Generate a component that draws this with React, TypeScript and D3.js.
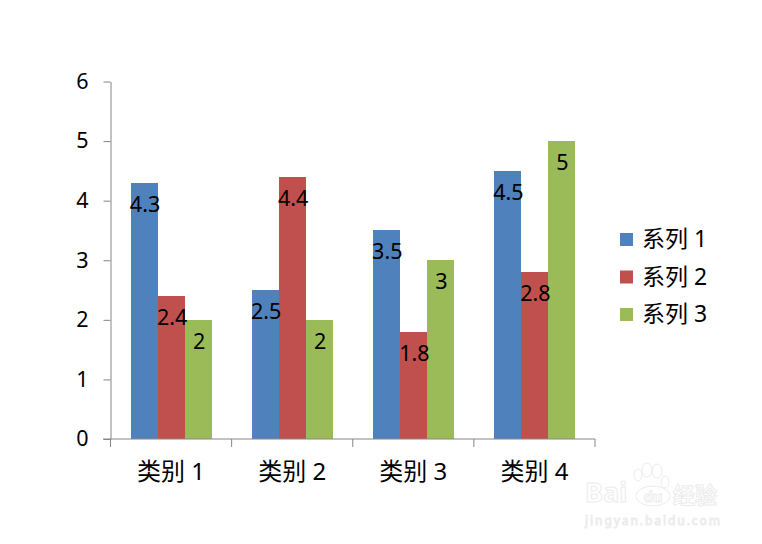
import React, { useRef, useEffect } from 'react';
import * as d3 from 'd3';

const categories = ['类别 1', '类别 2', '类别 3', '类别 4'];
const seriesNames = ['系列 1', '系列 2', '系列 3'];
const series1 = [4.3, 2.5, 3.5, 4.5];
const series2 = [2.4, 4.4, 1.8, 2.8];
const series3 = [2, 2, 3, 5];
const yTicks = [0, 1, 2, 3, 4, 5, 6];
const colors = ['#4f81bd', '#c0504d', '#9bbb59'];

const FONT = '"Noto Sans", "Noto Sans CJK SC", sans-serif';
const AXIS = '#868686';

const App: React.FC = () => {
  const svgRef = useRef<SVGSVGElement | null>(null);

  useEffect(() => {
    if (!svgRef.current) return;
    const svg = d3.select(svgRef.current);
    svg.selectAll('*').remove();

    const x0 = d3.scaleBand<string>().domain(categories).range([110.5, 595]);
    const x1 = d3.scaleBand<string>()
      .domain(seriesNames)
      .range([0, x0.bandwidth()])
      .paddingInner(0)
      .paddingOuter(0.74);
    const y = d3.scaleLinear().domain([0, 6]).range([439, 81.5]);

    const allSeries = [series1, series2, series3];

    // bars
    allSeries.forEach((values, s) => {
      svg.append('g')
        .attr('shape-rendering', 'crispEdges')
        .selectAll('rect')
        .data(values)
        .join('rect')
        .attr('x', (_, i) => x0(categories[i])! + x1(seriesNames[s])! + 0.4)
        .attr('y', d => y(d))
        .attr('width', x1.bandwidth())
        .attr('height', d => y(0) - y(d))
        .attr('fill', colors[s]);
    });

    // y axis
    const yAxis = svg.append('g')
      .attr('transform', 'translate(110.5,0)')
      .call(d3.axisLeft(y).tickValues(yTicks).tickFormat(d3.format('d')).tickSize(7).tickSizeOuter(0).tickPadding(15));
    yAxis.selectAll('path,line').attr('stroke', AXIS);
    yAxis.selectAll('text')
      .attr('fill', '#000')
      .style('font', `21.5px ${FONT}`);

    // x axis, ticks sit between the categories
    const xAxis = svg.append('g').attr('transform', 'translate(0,439)');
    xAxis.append('line').attr('x1', 103).attr('x2', 595).attr('stroke', AXIS);
    xAxis.selectAll('line.sep')
      .data(categories.concat(''))
      .join('line')
      .attr('class', 'sep')
      .attr('x1', (_, i) => 110.5 + i * x0.step())
      .attr('x2', (_, i) => 110.5 + i * x0.step())
      .attr('y1', 0)
      .attr('y2', 8)
      .attr('stroke', AXIS);
    xAxis.selectAll('text')
      .data(categories)
      .join('text')
      .attr('x', d => x0(d)! + x0.bandwidth() / 2)
      .attr('y', 41)
      .attr('text-anchor', 'middle')
      .style('font', `24px ${FONT}`)
      .text(d => d);

    // data labels, inside the bar end
    allSeries.forEach((values, s) => {
      svg.append('g')
        .selectAll('text')
        .data(values)
        .join('text')
        .attr('x', (_, i) => x0(categories[i])! + x1(seriesNames[s])! + x1.bandwidth() / 2 + 1)
        .attr('y', d => y(d) + 29)
        .attr('text-anchor', 'middle')
        .attr('fill', '#000')
        .style('font', `21.5px ${FONT}`)
        .text(d => d);
    });

    // legend
    const legend = svg.append('g');
    seriesNames.forEach((name, s) => {
      const rowY = 239.5 + s * 37.5;
      legend.append('rect')
        .attr('x', 620)
        .attr('y', rowY - 6.5)
        .attr('width', 13)
        .attr('height', 13)
        .attr('fill', colors[s]);
      legend.append('text')
        .attr('x', 642)
        .attr('y', rowY + 7.5)
        .style('font', `23px ${FONT}`)
        .text(name);
    });

    // watermark
    const mark = svg.append('g').attr('fill', 'none').attr('stroke', '#ececec').attr('stroke-width', 1);
    mark.append('text').attr('x', 585).attr('y', 502)
      .style('font', `bold 27px ${FONT}`).text('Bai');
    mark.append('text').attr('x', 673).attr('y', 503)
      .style('font', `bold 22px ${FONT}`).text('经验');
    mark.append('text').attr('x', 653).attr('y', 502).attr('text-anchor', 'middle')
      .style('font', `bold 15px ${FONT}`).text('du');
    mark.append('text').attr('x', 585).attr('y', 525)
      .style('font', `12px ${FONT}`).attr('textLength', 135).text('jingyan.baidu.com');
    mark.append('ellipse').attr('cx', 653).attr('cy', 496).attr('rx', 17).attr('ry', 10);
    [[638, 475, 4, 6], [647, 470, 5, 7], [657, 471, 5, 7], [665, 482, 4, 6]].forEach(([cx, cy, rx, ry]) =>
      mark.append('ellipse').attr('cx', cx).attr('cy', cy).attr('rx', rx).attr('ry', ry));
  }, []);

  return <svg ref={svgRef} width={762} height={544} style={{ position: 'absolute', left: 0, top: 0, background: '#fff' }} />;
};

export default App;
